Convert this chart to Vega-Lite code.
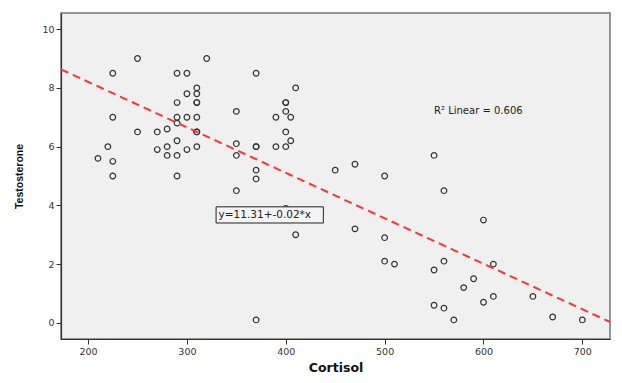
{
  "$schema": "https://vega.github.io/schema/vega-lite/v6.json",
  "width": 549,
  "height": 326,
  "autosize": "none",
  "padding": {"left": 61, "top": 13, "right": 12, "bottom": 44},
  "background": "white",
  "config": {
    "font": "DejaVu Sans",
    "view": {"fill": "#f0f0f0", "stroke": "#777", "strokeWidth": 1.5}
  },
  "datasets": {
    "pts": [
      {"c": 250, "t": 9.0}, {"c": 320, "t": 9.0},
      {"c": 225, "t": 8.5}, {"c": 290, "t": 8.5}, {"c": 300, "t": 8.5}, {"c": 370, "t": 8.5},
      {"c": 310, "t": 8.0}, {"c": 410, "t": 8.0},
      {"c": 300, "t": 7.8}, {"c": 310, "t": 7.8},
      {"c": 290, "t": 7.5}, {"c": 310, "t": 7.5}, {"c": 310, "t": 7.5}, {"c": 400, "t": 7.5}, {"c": 400, "t": 7.5},
      {"c": 350, "t": 7.2}, {"c": 400, "t": 7.2},
      {"c": 225, "t": 7.0}, {"c": 290, "t": 7.0}, {"c": 300, "t": 7.0}, {"c": 310, "t": 7.0}, {"c": 390, "t": 7.0}, {"c": 405, "t": 7.0},
      {"c": 290, "t": 6.8}, {"c": 280, "t": 6.6},
      {"c": 250, "t": 6.5}, {"c": 270, "t": 6.5}, {"c": 310, "t": 6.5}, {"c": 310, "t": 6.5}, {"c": 400, "t": 6.5},
      {"c": 290, "t": 6.2}, {"c": 405, "t": 6.2}, {"c": 350, "t": 6.1},
      {"c": 220, "t": 6.0}, {"c": 280, "t": 6.0}, {"c": 310, "t": 6.0}, {"c": 370, "t": 6.0}, {"c": 370, "t": 6.0}, {"c": 390, "t": 6.0}, {"c": 400, "t": 6.0},
      {"c": 270, "t": 5.9}, {"c": 300, "t": 5.9},
      {"c": 280, "t": 5.7}, {"c": 290, "t": 5.7}, {"c": 350, "t": 5.7},
      {"c": 210, "t": 5.6}, {"c": 225, "t": 5.5}, {"c": 370, "t": 5.2},
      {"c": 225, "t": 5.0}, {"c": 290, "t": 5.0}, {"c": 370, "t": 4.9}, {"c": 350, "t": 4.5},
      {"c": 400, "t": 3.9}, {"c": 410, "t": 3.0}, {"c": 370, "t": 0.1},
      {"c": 450, "t": 5.2}, {"c": 470, "t": 5.4}, {"c": 500, "t": 5.0}, {"c": 550, "t": 5.7}, {"c": 560, "t": 4.5},
      {"c": 600, "t": 3.5}, {"c": 470, "t": 3.2}, {"c": 500, "t": 2.9}, {"c": 500, "t": 2.1}, {"c": 510, "t": 2.0},
      {"c": 560, "t": 2.1}, {"c": 550, "t": 1.8}, {"c": 610, "t": 2.0}, {"c": 590, "t": 1.5}, {"c": 580, "t": 1.2},
      {"c": 610, "t": 0.9}, {"c": 600, "t": 0.7}, {"c": 650, "t": 0.9}, {"c": 550, "t": 0.6}, {"c": 560, "t": 0.5},
      {"c": 570, "t": 0.1}, {"c": 670, "t": 0.2}, {"c": 700, "t": 0.1}
    ],
    "fit": [{"c": 172.6, "t": 8.63}, {"c": 728, "t": 0.03}],
    "r2": [{"c": 550, "t": 7.2, "label": "R² Linear = 0.606"}],
    "eq": [{"c": 329.5, "c2": 438, "t": 3.95, "t2": 3.4, "cm": 332, "tm": 3.66, "label": "y=11.31+-0.02*x"}]
  },
  "layer": [
    {
      "data": {"name": "pts"},
      "mark": {"type": "point", "shape": "circle", "filled": false, "stroke": "#333", "strokeWidth": 1.2, "size": 32, "opacity": 1},
      "encoding": {
        "x": {
          "field": "c", "type": "quantitative",
          "scale": {"domain": [172.6, 728], "nice": false, "zero": false},
          "axis": {
            "title": "Cortisol", "titleFont": "DejaVu Sans", "titleFontSize": 12.5, "titleFontWeight": "bold", "titleColor": "#111", "titlePadding": 6,
            "values": [200, 300, 400, 500, 600, 700], "grid": false,
            "labelFontSize": 9.5, "labelColor": "#333", "tickColor": "#333", "tickSize": 5, "domainColor": "#333", "domainWidth": 1.2, "labelPadding": 2
          }
        },
        "y": {
          "field": "t", "type": "quantitative",
          "scale": {"domain": [-0.55, 10.55], "nice": false, "zero": false},
          "axis": {
            "title": "Testosterone", "titleFont": "Liberation Sans", "titleFontSize": 10.5, "titleFontWeight": "bold", "titleColor": "#111", "titlePadding": 17,
            "values": [0, 2, 4, 6, 8, 10], "grid": false,
            "labelFontSize": 9.5, "labelColor": "#333", "tickColor": "#333", "tickSize": 5, "domainColor": "#333", "domainWidth": 1.2, "labelPadding": 2
          }
        }
      }
    },
    {
      "data": {"name": "fit"},
      "mark": {"type": "line", "color": "#ff3333", "strokeWidth": 2, "strokeDash": [8, 5]},
      "encoding": {
        "x": {"field": "c", "type": "quantitative"},
        "y": {"field": "t", "type": "quantitative"}
      }
    },
    {
      "data": {"name": "r2"},
      "mark": {"type": "text", "align": "left", "baseline": "middle", "fontSize": 10, "color": "#222", "font": "DejaVu Sans"},
      "encoding": {
        "x": {"field": "c", "type": "quantitative"},
        "y": {"field": "t", "type": "quantitative"},
        "text": {"field": "label"}
      }
    },
    {
      "data": {"name": "eq"},
      "mark": {"type": "rect", "fill": "#f4f4f4", "stroke": "#222", "strokeWidth": 1},
      "encoding": {
        "x": {"field": "c", "type": "quantitative"},
        "x2": {"field": "c2"},
        "y": {"field": "t", "type": "quantitative"},
        "y2": {"field": "t2"}
      }
    },
    {
      "data": {"name": "eq"},
      "mark": {"type": "text", "align": "left", "baseline": "middle", "fontSize": 10.5, "color": "#222", "font": "DejaVu Sans"},
      "encoding": {
        "x": {"field": "cm", "type": "quantitative"},
        "y": {"field": "tm", "type": "quantitative"},
        "text": {"field": "label"}
      }
    }
  ]
}
